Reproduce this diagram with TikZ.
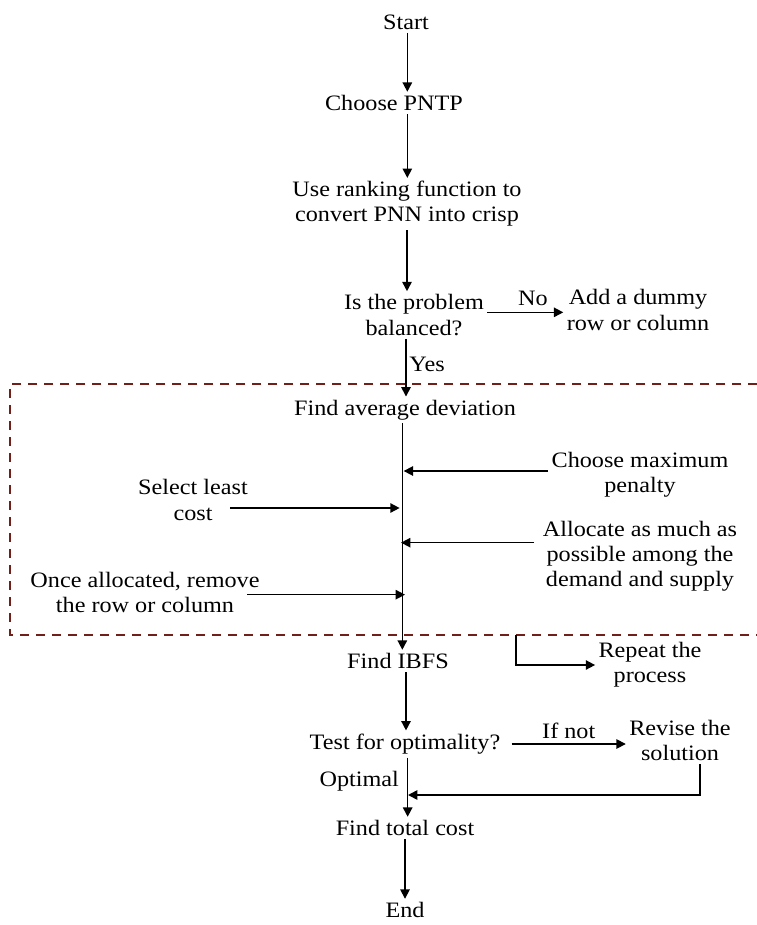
\documentclass[tikz,border=0pt]{standalone}
\usepackage{fontspec}
\setmainfont{Liberation Serif}[FakeStretch=1.1]
\usepackage{tikz}
\usetikzlibrary{arrows.meta}
\definecolor{boxred}{RGB}{112,32,24}
\newcommand{\flowfont}{\fontsize{16.5}{18.8}\selectfont}

\begin{document}
\begin{tikzpicture}[x=0.75pt,y=-0.75pt,line width=1.2pt,>={Triangle[length=7pt,width=7pt]},
    every node/.style={align=center,font=\flowfont,inner sep=2pt}]
        \useasboundingbox (0,0) rectangle (757,925);
        % dashed frame round the allocation loop
        \draw[boxred,line width=1.4pt,dash pattern=on 6.75pt off 5.25pt] (757,384)--(10,384)--(10,635)--(757,635);
        \coordinate (rp) at (516,635); \coordinate (back) at (408,795);
        \node (start) at (406,22) {Start};
        \node (choose) at (394,103) {Choose PNTP};
        \node (rank) at (407,204) {Use ranking function to\\convert PNN into crisp};
        \node (bal) at (414,315) {Is the problem\\balanced?};
        \node (dummy) at (638,310) {Add a dummy\\row or column};
        \node (avg) at (405,410) {Find average deviation};
        \node (maxpen) at (640,475) {Choose maximum\\penalty};
        \node (least) at (193,500) {Select least\\cost};
        \node (alloc) at (640,556) {Allocate as much as\\possible among the\\demand and supply};
        \node (remove) at (145,592) {Once allocated, remove\\the row or column};
        \node (ibfs) at (398,661) {Find IBFS};
        \node (repeat) at (650,665) {Repeat the\\process};
        \node (opt) at (405,744) {Test for optimality?};
        \node (revise) at (680,740) {Revise the\\solution};
        \node (total) at (405,828) {Find total cost};
        \node (endn) at (405,910) {End};
        \draw[->] ([xshift=1pt]start.south) -- ([xshift=1pt]start.south |- choose.north);
        \draw[->] ([xshift=10pt]choose.south) -- ([xshift=10pt]choose.south |- rank.north);
        \draw[->] (rank.south) -- (rank.south |- bal.north);
        \draw[->] ([yshift=2pt]bal.east) -- ([yshift=2pt]bal.east -| dummy.west) node[pos=0.6,above=2pt] {No};
        \draw[->] ([xshift=-6pt]bal.south) -- ([xshift=-6pt]bal.south |- avg.north) node[pos=0.45,right] {Yes};
        \draw[->] ([xshift=-2pt]avg.south) -- ([xshift=-2pt]avg.south |- ibfs.north);
        \draw[->] ([yshift=3pt]maxpen.west) -- ([xshift=-1pt,yshift=3pt]maxpen.west -| avg.south);
        \draw[->] ([xshift=-16pt,yshift=-6pt]least.east) -- ([xshift=-4pt,yshift=-6pt]least.east -| avg.south);
        \draw[->] ([xshift=-4pt,yshift=10pt]alloc.west) -- ([xshift=-3pt,yshift=10pt]alloc.west -| avg.south);
        \draw[->] ([xshift=-12pt,yshift=-2pt]remove.east) -- ([yshift=-2pt]remove.east -| avg.south);
        \draw[->] (rp) |- (repeat.west);
        \draw[->] ([xshift=6pt]ibfs.south) -- ([xshift=6pt]ibfs.south |- opt.north);
        \draw[->] ([xshift=6pt]opt.east) -- (opt.east -| revise.west) node[midway,above=1pt] {If not};
        \draw[->] ([xshift=15pt]revise.south) |- (back);
        \draw[->] ([xshift=2pt]opt.south) -- ([xshift=2pt]opt.south |- total.north) node[pos=0.4,left=4pt] {Optimal};
        \draw[->] (total.south) -- (total.south |- endn.north);
    \end{tikzpicture}
\end{document}
